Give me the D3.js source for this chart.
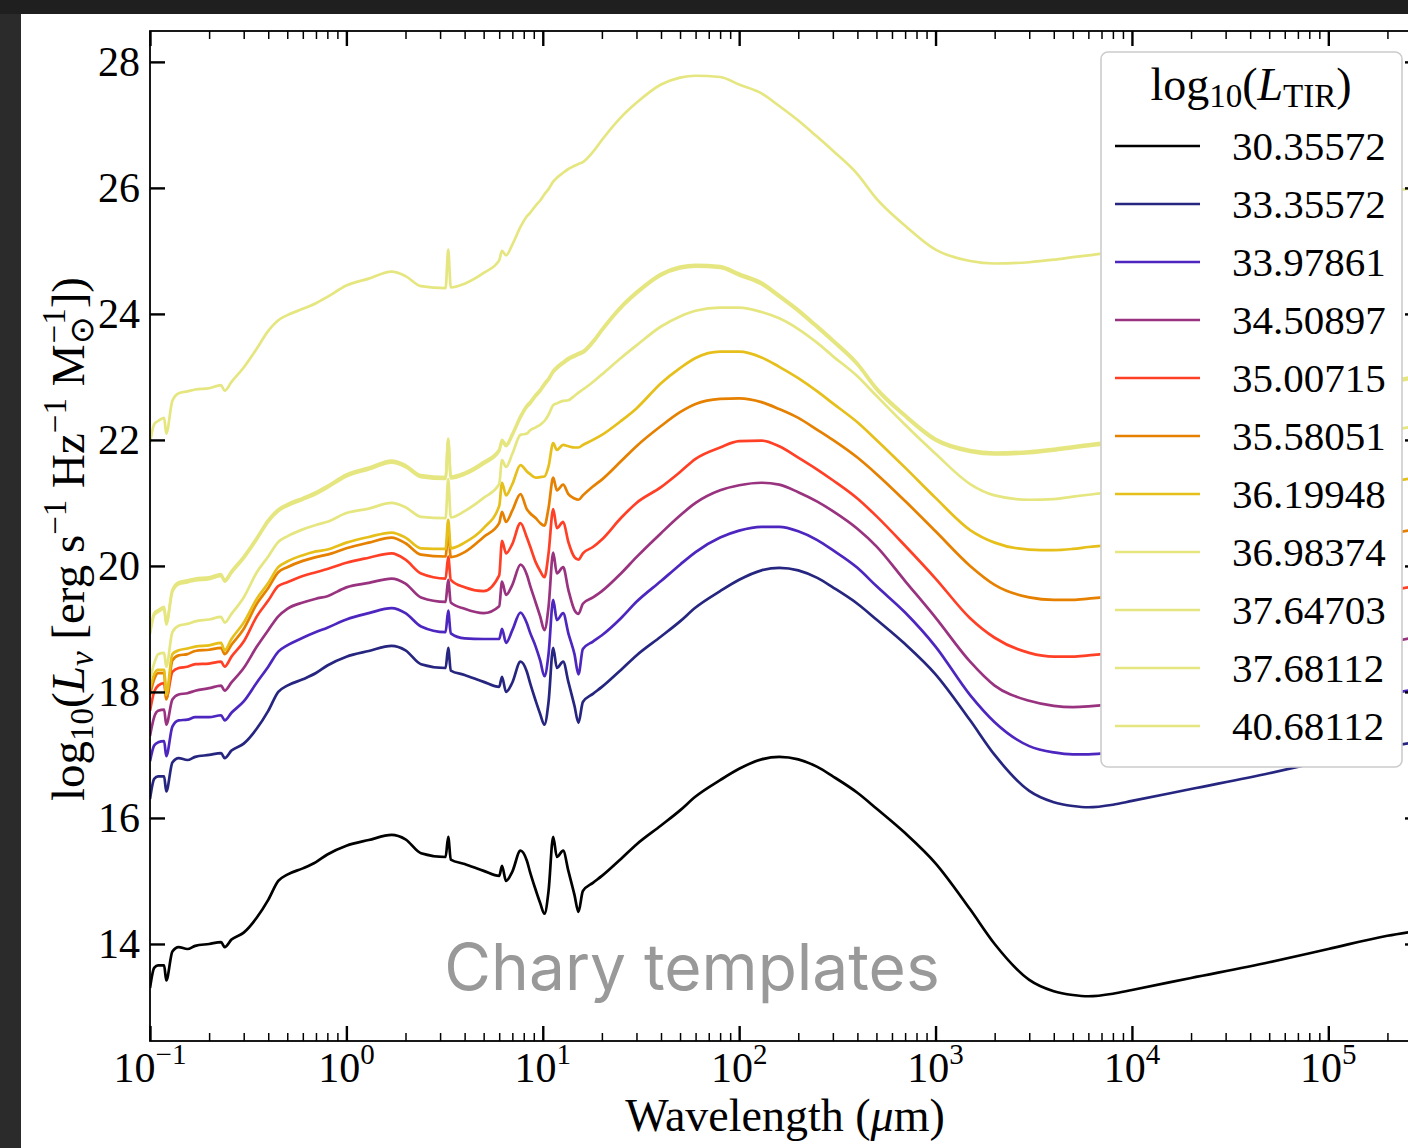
<!DOCTYPE html>
<html>
<head>
<meta charset="utf-8">
<script src="https://cdn.jsdelivr.net/npm/d3@7"></script>
<style>
  body { margin: 0; background: #2b2b2b; }
  svg text { font-family: "Liberation Serif", "Times New Roman", serif; }
</style>
</head>
<body>
<svg id="chart" width="1408" height="1148"></svg>
<script>
// wavelength grid in micron, shared by every template
const wavelength = [0.1, 0.105, 0.11, 0.118, 0.121, 0.13, 0.14, 0.155, 0.17, 0.2,
  0.23, 0.24, 0.26, 0.3, 0.35, 0.4, 0.45, 0.5, 0.6, 0.7,
  0.8, 1.0, 1.3, 1.7, 2.0, 2.4, 3.2, 3.3, 3.4, 4.0,
  5.0, 6.0, 6.2, 6.5, 7.0, 7.7, 8.3, 8.6, 9.2, 9.7,
  10.2, 10.7, 11.3, 11.8, 12.7, 13.5, 14.5, 15.2, 16, 18,
  20, 25, 30, 40, 50, 60, 80, 100, 130, 160,
  200, 250, 300, 400, 500, 700, 1000, 1500, 2000, 3000,
  4000, 5000, 6000, 8000, 1e4, 2e4, 5e4, 1e5, 2e5, 3e5];

// log10(L_nu) per template
const lum30_35572 = [13.30, 13.62, 13.66, 13.66, 13.42, 13.88, 13.95, 13.92, 13.97, 14.00,
  14.03, 13.95, 14.07, 14.18, 14.42, 14.70, 15.00, 15.10, 15.20, 15.30,
  15.42, 15.56, 15.65, 15.73, 15.66, 15.44, 15.38, 15.70, 15.34, 15.27,
  15.16, 15.08, 15.24, 15.00, 15.15, 15.48, 15.32, 15.15, 14.86, 14.65,
  14.48, 14.84, 15.70, 15.38, 15.48, 15.16, 14.78, 14.51, 14.84, 14.97,
  15.08, 15.35, 15.58, 15.88, 16.12, 16.34, 16.60, 16.78, 16.93, 16.97,
  16.93, 16.81, 16.66, 16.40, 16.15, 15.76, 15.28, 14.55, 14.00, 13.43,
  13.25, 13.19, 13.17, 13.21, 13.27, 13.46, 13.71, 13.92, 14.13, 14.22];
const lum33_35572 = [16.30, 16.62, 16.66, 16.66, 16.42, 16.88, 16.95, 16.92, 16.97, 17.00,
  17.03, 16.95, 17.07, 17.18, 17.42, 17.70, 18.00, 18.10, 18.20, 18.30,
  18.42, 18.56, 18.65, 18.73, 18.66, 18.44, 18.38, 18.70, 18.34, 18.27,
  18.16, 18.08, 18.24, 18.00, 18.15, 18.48, 18.32, 18.15, 17.86, 17.65,
  17.48, 17.84, 18.70, 18.38, 18.48, 18.16, 17.78, 17.51, 17.84, 17.97,
  18.08, 18.35, 18.58, 18.88, 19.12, 19.34, 19.60, 19.78, 19.93, 19.97,
  19.93, 19.81, 19.66, 19.40, 19.15, 18.76, 18.28, 17.55, 17.00, 16.43,
  16.25, 16.19, 16.17, 16.21, 16.27, 16.46, 16.71, 16.92, 17.13, 17.22];
const lum33_97861 = [16.90, 17.15, 17.20, 17.22, 16.98, 17.45, 17.55, 17.56, 17.60, 17.60,
  17.63, 17.55, 17.67, 17.85, 18.15, 18.40, 18.64, 18.74, 18.86, 18.95,
  19.02, 19.15, 19.25, 19.33, 19.25, 19.04, 18.95, 19.29, 18.93, 18.85,
  18.84, 18.84, 19.00, 18.78, 18.98, 19.26, 19.09, 18.95, 18.72, 18.50,
  18.25, 18.60, 19.46, 19.14, 19.25, 18.93, 18.60, 18.28, 18.68, 18.80,
  18.90, 19.17, 19.43, 19.76, 20.02, 20.22, 20.45, 20.56, 20.62, 20.62,
  20.55, 20.41, 20.25, 19.97, 19.68, 19.26, 18.72, 17.95, 17.52, 17.14,
  17.04, 17.01, 17.01, 17.04, 17.08, 17.27, 17.55, 17.76, 17.96, 18.06];
const lum34_50897 = [17.30, 17.60, 17.70, 17.72, 17.48, 17.88, 17.96, 17.98, 18.02, 18.06,
  18.10, 18.02, 18.15, 18.38, 18.72, 18.98, 19.20, 19.32, 19.42, 19.48,
  19.52, 19.66, 19.73, 19.80, 19.72, 19.50, 19.43, 19.78, 19.42, 19.32,
  19.25, 19.36, 19.75, 19.54, 19.70, 20.02, 19.86, 19.70, 19.42, 19.20,
  18.98, 19.35, 20.21, 19.88, 19.98, 19.62, 19.30, 19.24, 19.40, 19.50,
  19.60, 19.88, 20.14, 20.52, 20.80, 21.00, 21.20, 21.28, 21.32, 21.29,
  21.17, 21.02, 20.87, 20.59, 20.31, 19.76, 19.18, 18.48, 18.10, 17.86,
  17.78, 17.76, 17.77, 17.81, 17.86, 18.06, 18.36, 18.58, 18.78, 18.89];
const lum35_00715 = [17.70, 18.00, 18.10, 18.14, 17.90, 18.32, 18.38, 18.40, 18.44, 18.45,
  18.48, 18.40, 18.56, 18.80, 19.20, 19.45, 19.68, 19.74, 19.84, 19.90,
  19.95, 20.05, 20.13, 20.20, 20.10, 19.88, 19.80, 20.15, 19.78, 19.66,
  19.60, 19.85, 20.40, 20.20, 20.35, 20.68, 20.45, 20.32, 20.06, 19.92,
  19.82, 20.20, 20.90, 20.60, 20.70, 20.38, 20.14, 20.10, 20.20, 20.30,
  20.42, 20.76, 21.00, 21.25, 21.49, 21.70, 21.88, 21.98, 21.99, 21.90,
  21.72, 21.53, 21.36, 21.07, 20.79, 20.32, 19.80, 19.17, 18.86, 18.62,
  18.56, 18.56, 18.58, 18.62, 18.68, 18.88, 19.18, 19.40, 19.60, 19.70];
const lum35_58051 = [17.95, 18.20, 18.30, 18.30, 17.88, 18.50, 18.58, 18.60, 18.65, 18.67,
  18.70, 18.60, 18.75, 19.00, 19.40, 19.65, 19.90, 19.98, 20.08, 20.14,
  20.18, 20.28, 20.37, 20.45, 20.36, 20.18, 20.15, 20.55, 20.14, 20.22,
  20.46, 20.68, 20.86, 20.70, 20.88, 21.14, 20.90, 20.84, 20.76, 20.68,
  20.64, 20.92, 21.40, 21.20, 21.29, 21.14, 21.07, 21.05, 21.12, 21.26,
  21.37, 21.66, 21.90, 22.22, 22.44, 22.57, 22.65, 22.66, 22.60, 22.49,
  22.35, 22.16, 22.00, 21.72, 21.46, 21.03, 20.55, 20.00, 19.70, 19.50,
  19.46, 19.46, 19.48, 19.52, 19.58, 19.78, 20.08, 20.30, 20.50, 20.60];
const lum36_19948 = [18.05, 18.28, 18.35, 18.35, 17.95, 18.60, 18.66, 18.69, 18.72, 18.74,
  18.78, 18.66, 18.84, 19.10, 19.48, 19.73, 19.98, 20.07, 20.17, 20.23,
  20.26, 20.37, 20.46, 20.53, 20.45, 20.28, 20.27, 20.73, 20.28, 20.37,
  20.60, 20.95, 21.32, 21.12, 21.30, 21.60, 21.50, 21.46, 21.40, 21.41,
  21.42, 21.58, 21.95, 21.84, 21.92, 21.90, 21.88, 21.88, 21.92, 22.00,
  22.08, 22.30, 22.50, 22.90, 23.14, 23.30, 23.40, 23.40, 23.31, 23.16,
  22.98, 22.77, 22.58, 22.28, 22.00, 21.56, 21.08, 20.57, 20.37, 20.26,
  20.25, 20.27, 20.30, 20.34, 20.40, 20.60, 20.90, 21.12, 21.32, 21.42];
const lum36_98374 = [18.20, 18.45, 18.60, 18.62, 18.40, 18.95, 19.05, 19.08, 19.12, 19.15,
  19.19, 19.10, 19.24, 19.50, 19.90, 20.15, 20.38, 20.47, 20.58, 20.65,
  20.70, 20.84, 20.91, 21.00, 20.93, 20.78, 20.76, 21.38, 20.77, 20.87,
  21.08, 21.30, 21.68, 21.57, 21.78, 22.08, 22.10, 22.15, 22.20, 22.24,
  22.30, 22.40, 22.55, 22.58, 22.62, 22.63, 22.70, 22.75, 22.80, 22.92,
  23.04, 23.30, 23.50, 23.80, 23.96, 24.05, 24.10, 24.10, 24.03, 23.93,
  23.76, 23.54, 23.33, 23.01, 22.70, 22.24, 21.78, 21.30, 21.12, 21.05,
  21.06, 21.10, 21.13, 21.18, 21.23, 21.43, 21.73, 21.95, 22.14, 22.24];
const lum37_64703 = [18.92, 19.22, 19.27, 19.32, 19.07, 19.59, 19.71, 19.74, 19.77, 19.79,
  19.84, 19.75, 19.89, 20.12, 20.42, 20.70, 20.87, 20.95, 21.05, 21.14,
  21.24, 21.42, 21.53, 21.64, 21.57, 21.41, 21.38, 21.99, 21.39, 21.45,
  21.62, 21.82, 21.97, 21.90, 22.07, 22.35, 22.52, 22.57, 22.69, 22.77,
  22.87, 22.95, 23.07, 23.13, 23.21, 23.27, 23.32, 23.35, 23.38, 23.54,
  23.73, 24.09, 24.32, 24.61, 24.72, 24.75, 24.73, 24.61, 24.47, 24.27,
  24.04, 23.78, 23.56, 23.19, 22.80, 22.37, 21.99, 21.81, 21.77, 21.79,
  21.83, 21.87, 21.90, 21.95, 22.00, 22.20, 22.50, 22.72, 22.90, 23.00];
const lum37_68112 = [18.95, 19.25, 19.30, 19.35, 19.10, 19.62, 19.74, 19.77, 19.80, 19.82,
  19.87, 19.78, 19.92, 20.15, 20.45, 20.73, 20.90, 20.98, 21.08, 21.17,
  21.27, 21.45, 21.56, 21.67, 21.60, 21.44, 21.41, 22.02, 21.42, 21.48,
  21.65, 21.85, 22.00, 21.93, 22.10, 22.38, 22.55, 22.60, 22.72, 22.80,
  22.90, 22.98, 23.10, 23.16, 23.24, 23.30, 23.35, 23.38, 23.41, 23.57,
  23.76, 24.12, 24.35, 24.64, 24.75, 24.78, 24.76, 24.64, 24.50, 24.30,
  24.07, 23.81, 23.59, 23.22, 22.83, 22.40, 22.02, 21.84, 21.80, 21.82,
  21.86, 21.90, 21.93, 21.98, 22.03, 22.23, 22.53, 22.75, 22.93, 23.03];
const lum40_68112 = [21.95, 22.25, 22.30, 22.35, 22.10, 22.62, 22.74, 22.77, 22.80, 22.82,
  22.87, 22.78, 22.92, 23.15, 23.45, 23.73, 23.90, 23.98, 24.08, 24.17,
  24.27, 24.45, 24.56, 24.67, 24.60, 24.44, 24.41, 25.02, 24.42, 24.48,
  24.65, 24.85, 25.00, 24.93, 25.10, 25.38, 25.55, 25.60, 25.72, 25.80,
  25.90, 25.98, 26.10, 26.16, 26.24, 26.30, 26.35, 26.38, 26.41, 26.57,
  26.76, 27.12, 27.35, 27.64, 27.75, 27.78, 27.76, 27.64, 27.50, 27.30,
  27.07, 26.81, 26.59, 26.22, 25.83, 25.40, 25.02, 24.84, 24.80, 24.82,
  24.86, 24.90, 24.93, 24.98, 25.03, 25.23, 25.53, 25.75, 25.93, 26.03];

const legendLabels = ["30.35572", "33.35572", "33.97861", "34.50897", "35.00715", "35.58051",
  "36.19948", "36.98374", "37.64703", "37.68112", "40.68112"];
const seriesValues = [lum30_35572, lum33_35572, lum33_97861, lum34_50897, lum35_00715, lum35_58051,
  lum36_19948, lum36_98374, lum37_64703, lum37_68112, lum40_68112];

const yTicks = [14, 16, 18, 20, 22, 24, 26, 28];
const xDecades = [-1, 0, 1, 2, 3, 4, 5];

// CMRmap-like colours, last four are clipped to the same pale yellow
const palette = ["#000000", "#262680", "#4d26bf", "#993380", "#ff4026", "#e68000",
  "#e6bf1a", "#e6e680", "#e6e680", "#e6e680", "#e6e680"];

const svg = d3.select("#chart");

// dark frame around the white figure
svg.append("rect").attr("width", 1408).attr("height", 1148).attr("fill", "#2b2b2b");
svg.append("rect").attr("width", 1408).attr("height", 14).attr("fill", "#1f1f1f");
svg.append("rect").attr("x", 21).attr("y", 14).attr("width", 1387).attr("height", 1134).attr("fill", "#fff");

const plotL = 150, plotR = 1420, plotT = 31, plotB = 1041;

const x = d3.scaleLog().domain([0.1, 2.93e5]).range([plotL, plotR]);
const y = d3.scaleLinear().domain([12.46, 28.49]).range([plotB, plotT]);

svg.append("clipPath").attr("id", "plot-clip")
  .append("rect").attr("x", plotL).attr("y", plotT).attr("width", plotR - plotL).attr("height", plotB - plotT);

const line = d3.line()
  .x(d => x(d[0]))
  .y(d => y(d[1]))
  .curve(d3.curveMonotoneX);

svg.append("g")
  .attr("clip-path", "url(#plot-clip)")
  .selectAll("path")
  .data(seriesValues)
  .join("path")
  .attr("d", vals => line(wavelength.map((w, i) => [w, vals[i]])))
  .attr("fill", "none")
  .attr("stroke", (d, i) => palette[i])
  .attr("stroke-width", 2.7)
  .attr("stroke-linejoin", "round");

// ticks, all pointing inward
const majorX = xDecades.map(e => Math.pow(10, e));
const minorX = [];
for (let e = -1; e <= 5; e++) {
  for (let m = 2; m <= 9; m++) {
    const v = m * Math.pow(10, e);
    if (v <= 2.93e5) minorX.push(v);
  }
}

function styleTicks(g, w) {
  g.select(".domain").remove();
  g.selectAll(".tick line").attr("stroke", "#000").attr("stroke-width", w);
}

svg.append("g").attr("transform", `translate(0,${plotB})`)
  .call(d3.axisBottom(x).tickValues(majorX).tickSize(-15).tickFormat(""))
  .call(g => styleTicks(g, 2.4));
svg.append("g").attr("transform", `translate(0,${plotB})`)
  .call(d3.axisBottom(x).tickValues(minorX).tickSize(-8).tickFormat(""))
  .call(g => styleTicks(g, 1.5));
svg.append("g").attr("transform", `translate(0,${plotT})`)
  .call(d3.axisTop(x).tickValues(majorX).tickSize(-15).tickFormat(""))
  .call(g => styleTicks(g, 2.4));
svg.append("g").attr("transform", `translate(0,${plotT})`)
  .call(d3.axisTop(x).tickValues(minorX).tickSize(-8).tickFormat(""))
  .call(g => styleTicks(g, 1.5));

svg.append("g").attr("transform", `translate(${plotL},0)`)
  .call(d3.axisLeft(y).tickValues(yTicks).tickSize(-15).tickPadding(10))
  .call(g => styleTicks(g, 2.4))
  .call(g => g.selectAll(".tick text")
    .attr("font-size", 42).attr("fill", "#000")
    .style("font-family", '"Liberation Serif", serif'));
svg.append("g").attr("transform", `translate(${plotR},0)`)
  .call(d3.axisRight(y).tickValues(yTicks).tickSize(-15).tickFormat(""))
  .call(g => styleTicks(g, 2.4));

// spines
svg.append("rect")
  .attr("x", plotL).attr("y", plotT).attr("width", plotR - plotL).attr("height", plotB - plotT)
  .attr("fill", "none").attr("stroke", "#000").attr("stroke-width", 1.8);

// x tick labels as 10^n
const xl = svg.append("g").selectAll("text")
  .data(xDecades)
  .join("text")
  .attr("x", e => x(Math.pow(10, e)))
  .attr("y", 1082)
  .attr("text-anchor", "middle")
  .attr("font-size", 42);
xl.append("tspan").text("10");
xl.append("tspan").attr("dy", -18).attr("font-size", 29).text(e => String(e).replace("-", "\u2212"));

// axis titles
const xt = svg.append("text")
  .attr("x", (plotL + plotR) / 2).attr("y", 1131)
  .attr("text-anchor", "middle").attr("font-size", 46);
xt.append("tspan").text("Wavelength (");
xt.append("tspan").attr("font-style", "italic").text("\u03bc");
xt.append("tspan").text("m)");

const yt = svg.append("text")
  .attr("transform", `translate(84,${(plotT + plotB) / 2 + 3}) rotate(-90)`)
  .attr("text-anchor", "middle").attr("font-size", 47);
yt.append("tspan").text("log");
yt.append("tspan").attr("font-size", 33).attr("dy", 9).text("10");
yt.append("tspan").attr("dy", -9).text("(");
yt.append("tspan").attr("font-style", "italic").text("L");
yt.append("tspan").attr("font-style", "italic").attr("font-size", 33).attr("dy", 9).text("\u03bd");
yt.append("tspan").attr("dy", -9).text(" [erg s");
yt.append("tspan").attr("font-size", 33).attr("dy", -18).text("\u22121");
yt.append("tspan").attr("dy", 18).text(" Hz");
yt.append("tspan").attr("font-size", 33).attr("dy", -18).text("\u22121");
yt.append("tspan").attr("dy", 18).text(" M");
yt.append("tspan").attr("font-size", 33).attr("dy", 9).text("\u2299");
yt.append("tspan").attr("font-size", 33).attr("dx", -27).attr("dy", -28).text("\u22121");
yt.append("tspan").attr("dy", 19).text("])");

// annotation
svg.append("text")
  .attr("x", 692).attr("y", 990)
  .attr("text-anchor", "middle")
  .attr("font-size", 64)
  .attr("fill", "#999999")
  .style("font-family", "Inter, Roboto, sans-serif")
  .text("Chary templates");

// legend
const lg = svg.append("g");
lg.append("rect")
  .attr("x", 1101).attr("y", 52).attr("width", 301).attr("height", 715)
  .attr("rx", 7).attr("fill", "#fff").attr("stroke", "#cccccc").attr("stroke-width", 1.6);

const lt = lg.append("text")
  .attr("x", 1251).attr("y", 100).attr("text-anchor", "middle").attr("font-size", 46);
lt.append("tspan").text("log");
lt.append("tspan").attr("font-size", 33).attr("dy", 7).text("10");
lt.append("tspan").attr("dy", -7).text("(");
lt.append("tspan").attr("font-style", "italic").text("L");
lt.append("tspan").attr("font-size", 33).attr("dy", 7).text("TIR");
lt.append("tspan").attr("dy", -7).text(")");

const entry = lg.selectAll("g.entry")
  .data(legendLabels)
  .join("g")
  .attr("class", "entry")
  .attr("transform", (d, i) => `translate(0,${146 + 58 * i})`);
entry.append("line")
  .attr("x1", 1115).attr("x2", 1200)
  .attr("stroke", (d, i) => palette[i]).attr("stroke-width", 2.7);
entry.append("text")
  .attr("x", 1232).attr("y", 14).attr("font-size", 41)
  .text(d => d);
</script>
</body>
</html>
